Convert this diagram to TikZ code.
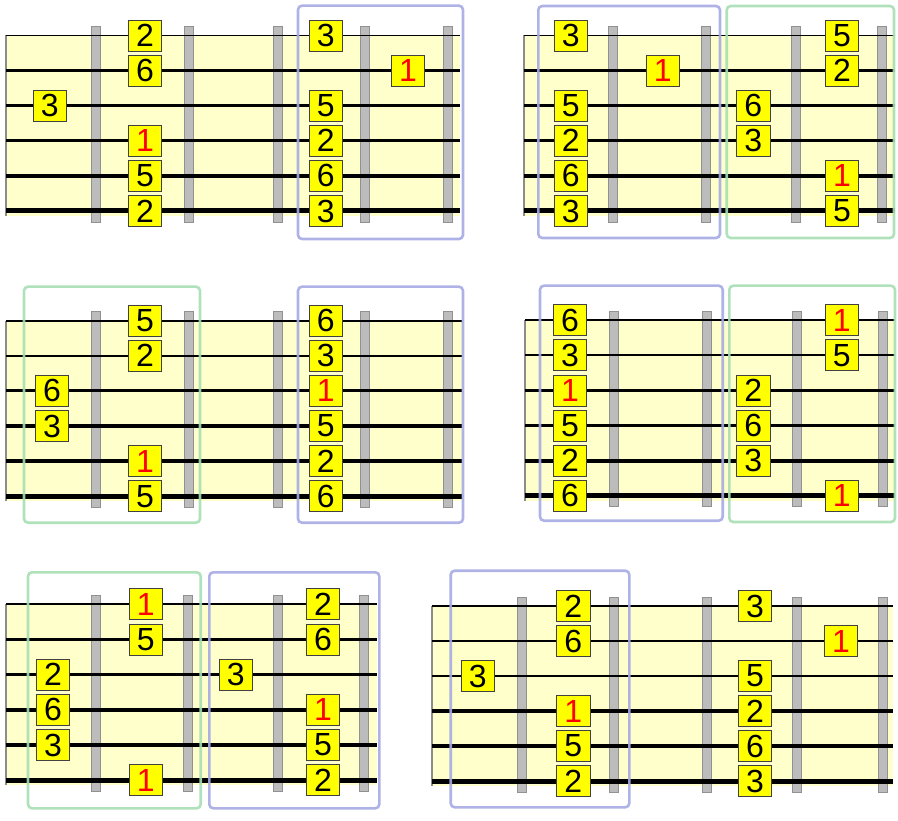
\documentclass[tikz,border=0pt]{standalone}
\usepackage{fontspec}
\setmainfont{Liberation Sans}
\definecolor{boardbg}{RGB}{255,255,204}
\definecolor{fretfill}{RGB}{188,188,188}
\definecolor{fretdraw}{RGB}{145,145,145}
\definecolor{bluebx}{RGB}{166,170,228}
\definecolor{greenbx}{RGB}{166,222,178}
\definecolor{notebg}{RGB}{255,255,0}
\tikzset{
  nt/.style={draw=black!75, line width=0.9pt, fill=notebg, minimum width=33.5pt, minimum height=31pt, inner sep=0pt, font=\fontsize{32}{32}\selectfont},
  rt/.style={nt, text=red},
  fretbar/.style={fill=fretfill, draw=fretdraw, line width=0.8pt},
  edgeline/.style={draw=black!45, line width=2pt},
  bluebox/.style={draw=bluebx, line width=2.6pt, rounded corners=4pt, opacity=0.9},
  greenbox/.style={draw=greenbx, line width=2.6pt, rounded corners=4pt, opacity=0.9}
}
% #1 left x, #2 right x, #3 top string y, #4 string spacing, #5 fret list
\newcommand\fretboard[5]{%
  \fill[boardbg] (#1,#3) rectangle (#2,#3+5*#4+5);
  \draw[edgeline] (#1,#3) -- (#1,#3+5*#4+5);
  \foreach \f in {#5} {\draw[fretbar] (\f-4.5,#3-9) rectangle (\f+4.5,#3+5*#4+11);}
  \foreach \i/\w in {0/1.8,1/2.2,2/2.8,3/3.4,4/4,5/5} {\draw[line width=\w pt] (#1,#3+\i*#4) -- (#2,#3+\i*#4);}
}
\begin{document}
\begin{tikzpicture}[x=1pt,y=-1pt]
\useasboundingbox (0,0) rectangle (898,821);
% ---------- Diagram 1 ----------
\fretboard{6}{460}{35.5}{35.1}{95.7,188.7,278,365,448}
\draw[bluebox] (298,5.7) rectangle (463,239);
\node[nt] (a1) at (49.7,105.7) {3};
\node[nt] (a2) at (145,35.5) {2};
\node[nt] (a3) at (145,70.6) {6};
\node[rt] (a4) at (145,140.8) {1};
\node[nt] (a5) at (145,175.9) {5};
\node[nt] (a6) at (145,211) {2};
\node[nt] (a7) at (325.7,35.5) {3};
\node[nt] (a8) at (325.7,105.7) {5};
\node[nt] (a9) at (325.7,140.8) {2};
\node[nt] (a10) at (325.7,175.9) {6};
\node[nt] (a11) at (325.7,211) {3};
\node[rt] (a12) at (408,70.6) {1};
% ---------- Diagram 2 ----------
\fretboard{524}{895}{35.5}{35.1}{613.3,706,796,882}
\draw[bluebox] (538.3,6) rectangle (720,238);
\draw[greenbox] (726.7,6) rectangle (894,238);
\node[nt] (b1) at (570.7,35.5) {3};
\node[nt] (b2) at (570.7,105.7) {5};
\node[nt] (b3) at (570.7,140.8) {2};
\node[nt] (b4) at (570.7,175.9) {6};
\node[nt] (b5) at (570.7,211) {3};
\node[rt] (b6) at (662.7,70.6) {1};
\node[nt] (b7) at (753.3,105.7) {6};
\node[nt] (b8) at (753.3,140.8) {3};
\node[nt] (b9) at (842,35.5) {5};
\node[nt] (b10) at (842,70.6) {2};
\node[rt] (b11) at (842,175.9) {1};
\node[nt] (b12) at (842,211) {5};
% ---------- Diagram 3 ----------
\fretboard{6}{461.7}{320.7}{35.1}{95.7,188.7,278,365,448}
\draw[greenbox] (24,286.7) rectangle (200,522.7);
\draw[bluebox] (298,286.7) rectangle (463,522.7);
\node[nt] (c1) at (145,320.7) {5};
\node[nt] (c2) at (145,355.8) {2};
\node[rt] (c3) at (145,461.1) {1};
\node[nt] (c4) at (145,496.2) {5};
\node[nt] (c5) at (52,390.9) {6};
\node[nt] (c6) at (52,426) {3};
\node[nt] (c7) at (325.7,320.7) {6};
\node[nt] (c8) at (325.7,355.8) {3};
\node[rt] (c9) at (325.7,390.9) {1};
\node[nt] (c10) at (325.7,426) {5};
\node[nt] (c11) at (325.7,461.1) {2};
\node[nt] (c12) at (325.7,496.2) {6};
% ---------- Diagram 4 ----------
\fretboard{525}{895}{320.3}{35.1}{614,706.7,796.7,882.7}
\draw[bluebox] (540,285.7) rectangle (722.7,520.7);
\draw[greenbox] (729.3,285.7) rectangle (895,522);
\node[nt] (d1) at (570,320.3) {6};
\node[nt] (d2) at (570,355.4) {3};
\node[rt] (d3) at (570,390.5) {1};
\node[nt] (d4) at (570,425.6) {5};
\node[nt] (d5) at (570,460.7) {2};
\node[nt] (d6) at (570,495.8) {6};
\node[nt] (d7) at (753.3,390.5) {2};
\node[nt] (d8) at (753.3,425.6) {6};
\node[nt] (d9) at (753.3,460.7) {3};
\node[rt] (d10) at (841.7,320.3) {1};
\node[nt] (d11) at (841.7,355.4) {5};
\node[rt] (d12) at (841.7,495.8) {1};
% ---------- Diagram 5 ----------
\fretboard{6}{376.7}{604.3}{35.2}{95.7,188.3,278.3,364.3}
\draw[greenbox] (28,572.3) rectangle (200.7,808.3);
\draw[bluebox] (209.3,572.3) rectangle (379.3,808.3);
\node[rt] (e1) at (145.7,604.3) {1};
\node[nt] (e2) at (145.7,639.5) {5};
\node[rt] (e3) at (145.7,780.3) {1};
\node[nt] (e4) at (53,674.7) {2};
\node[nt] (e5) at (53,709.9) {6};
\node[nt] (e6) at (53,745.1) {3};
\node[nt] (e7) at (235.7,674.7) {3};
\node[nt] (e8) at (323,604.3) {2};
\node[nt] (e9) at (323,639.5) {6};
\node[rt] (e10) at (323,709.9) {1};
\node[nt] (e11) at (323,745.1) {5};
\node[nt] (e12) at (323,780.3) {2};
% ---------- Diagram 6 ----------
\fretboard{432.3}{892.7}{606}{35}{521.7,614.3,707.3,797,882.7}
\draw[bluebox] (450.7,570.7) rectangle (629.3,807.3);
\node[nt] (f1) at (477.7,676) {3};
\node[nt] (f2) at (573.3,606) {2};
\node[nt] (f3) at (573.3,641) {6};
\node[rt] (f4) at (573.3,711) {1};
\node[nt] (f5) at (573.3,746) {5};
\node[nt] (f6) at (573.3,781) {2};
\node[nt] (f7) at (755,606) {3};
\node[nt] (f8) at (755,676) {5};
\node[nt] (f9) at (755,711) {2};
\node[nt] (f10) at (755,746) {6};
\node[nt] (f11) at (755,781) {3};
\node[rt] (f12) at (841,641) {1};
\end{tikzpicture}
\end{document}
